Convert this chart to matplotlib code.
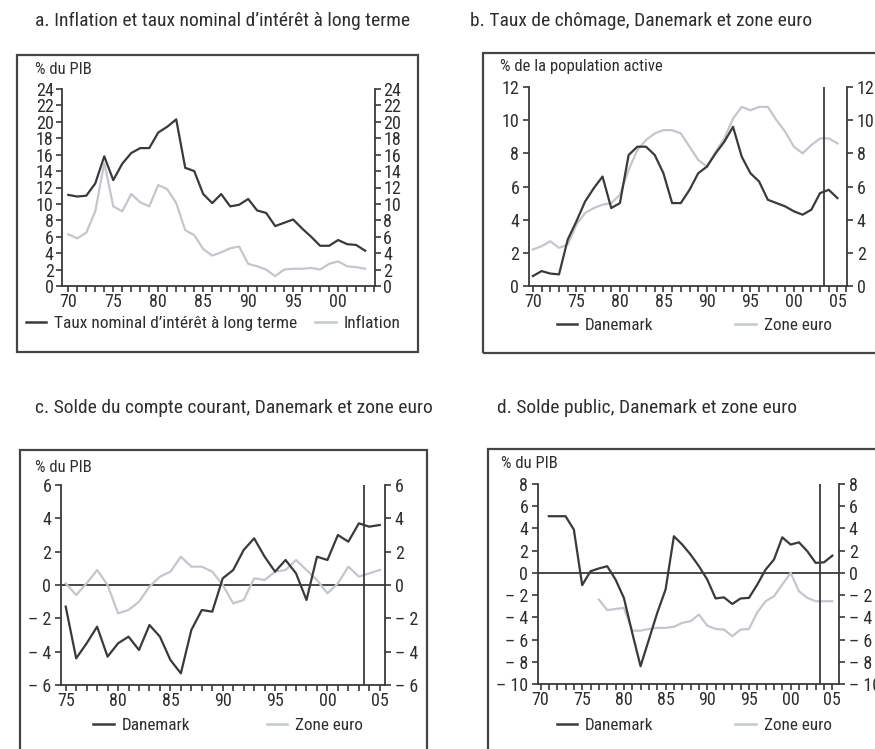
import matplotlib
matplotlib.use('Agg')
import matplotlib.pyplot as plt
from matplotlib import font_manager as fm
from matplotlib.patches import Rectangle
from matplotlib.lines import Line2D
from matplotlib.ticker import MultipleLocator, FuncFormatter

# pick a narrow face if one is there, the reference uses a condensed font
names = {f.name for f in fm.fontManager.ttflist}
family = 'DejaVu Sans'
for cand in ['Liberation Sans Narrow', 'Roboto Condensed', 'Open Sans Condensed',
             'Noto Sans Condensed', 'Arial Narrow']:
    if cand in names:
        family = cand
        break
plt.rcParams['font.family'] = [family, 'DejaVu Sans']

W, H = 875, 749
DARK = '#3a3a3a'
LIGHT = '#c3c7cc'
TXT = '#2e2e2e'

# a. inflation et taux long
years_a = list(range(1970, 2004))
taux_long = [11.1, 10.9, 11.0, 12.5, 15.8, 12.9, 14.9, 16.2, 16.8, 16.8,
             18.7, 19.4, 20.3, 14.4, 14.0, 11.2, 10.1, 11.2, 9.7, 9.9,
             10.6, 9.2, 8.9, 7.3, 7.7, 8.1, 7.0, 6.0, 4.9, 4.9,
             5.6, 5.1, 5.0, 4.3]
inflation = [6.3, 5.8, 6.5, 9.1, 15.0, 9.7, 9.1, 11.2, 10.2, 9.7,
             12.3, 11.8, 10.1, 6.8, 6.2, 4.5, 3.7, 4.1, 4.6, 4.8,
             2.7, 2.4, 2.0, 1.2, 2.0, 2.1, 2.1, 2.2, 2.0, 2.7,
             3.0, 2.4, 2.3, 2.1]

# b. chomage
years_b = list(range(1970, 2006))
chom_dk = [0.6, 0.9, 0.75, 0.7, 2.8, 3.9, 5.1, 5.9, 6.6, 4.7,
           5.0, 7.9, 8.4, 8.4, 7.9, 6.8, 5.0, 5.0, 5.8, 6.8,
           7.2, 8.0, 8.7, 9.6, 7.8, 6.8, 6.3, 5.2, 5.0, 4.8,
           4.5, 4.3, 4.6, 5.6, 5.8, 5.3]
chom_ze = [2.2, 2.4, 2.7, 2.3, 2.5, 3.7, 4.4, 4.7, 4.9, 5.0,
           5.5, 7.0, 8.2, 8.8, 9.2, 9.4, 9.4, 9.2, 8.4, 7.6,
           7.2, 8.1, 8.9, 10.1, 10.8, 10.6, 10.8, 10.8, 10.0, 9.3,
           8.4, 8.0, 8.5, 8.9, 8.9, 8.6]

# c. compte courant
years_c = list(range(1975, 2006))
cc_dk = [-1.3, -4.4, -3.5, -2.5, -4.3, -3.5, -3.1, -3.9, -2.4, -3.1,
         -4.5, -5.3, -2.7, -1.5, -1.6, 0.4, 0.9, 2.1, 2.8, 1.7,
         0.8, 1.5, 0.7, -0.9, 1.7, 1.5, 3.0, 2.6, 3.7, 3.5, 3.6]
cc_ze = [0.1, -0.6, 0.1, 0.9, 0.0, -1.7, -1.5, -1.0, -0.1, 0.5,
         0.8, 1.7, 1.1, 1.1, 0.8, 0.0, -1.1, -0.9, 0.4, 0.3,
         0.8, 0.9, 1.5, 0.9, 0.3, -0.5, 0.1, 1.1, 0.5, 0.7, 0.9]

# d. solde public
years_d_dk = list(range(1971, 2006))
sp_dk = [5.1, 5.1, 5.1, 3.9, -1.1, 0.15, 0.4, 0.6, -0.6, -2.25,
         -5.4, -8.4, -6.0, -3.6, -1.5, 3.3, 2.55, 1.65, 0.6, -0.6,
         -2.3, -2.2, -2.8, -2.3, -2.25, -1.05, 0.3, 1.2, 3.2, 2.55,
         2.75, 1.95, 0.9, 0.95, 1.55]
years_d_ze = list(range(1977, 2006))
sp_ze = [-2.4, -3.35, -3.25, -3.15, -5.2, -5.2, -5.05, -4.95, -4.95, -4.85,
         -4.5, -4.35, -3.75, -4.75, -5.05, -5.1, -5.7, -5.1, -5.05, -3.55,
         -2.55, -2.1, -1.05, 0.0, -1.65, -2.25, -2.55, -2.55, -2.55]

forecast_start = 2003.5

FS_TITLE = 14
FS_TICK = 13
FS_LEG = 12.3
FS_UNIT = 12


def px_axes(fig, left, top, right, bottom):
    return fig.add_axes([left / W, 1 - bottom / H, (right - left) / W, (bottom - top) / H])


def fmt_y(v, pos):
    v = int(round(v))
    return '\u2013 %d' % abs(v) if v < 0 else '%d' % v


def style(ax, xlim, ylim, ystep):
    ax.set_xlim(*xlim)
    ax.set_ylim(*ylim)
    ax.set_facecolor('none')
    for s in ['left', 'right', 'bottom']:
        ax.spines[s].set_color(DARK)
        ax.spines[s].set_linewidth(1.3)
    ax.spines['top'].set_visible(False)
    ax.xaxis.set_major_locator(MultipleLocator(5))
    ax.xaxis.set_minor_locator(MultipleLocator(1))
    ax.xaxis.set_major_formatter(FuncFormatter(lambda v, p: '%02d' % (int(round(v)) % 100)))
    ax.yaxis.set_major_locator(MultipleLocator(ystep))
    ax.yaxis.set_major_formatter(FuncFormatter(fmt_y))
    ax.tick_params(axis='both', which='both', direction='out', length=4, width=1.2,
                   color=DARK, labelcolor=TXT, labelsize=FS_TICK)
    ax.tick_params(axis='x', which='major', pad=1)
    ax.tick_params(axis='y', which='major', pad=3, right=True, labelright=True)


def legend(ax, fig, cx, cy, labels, colspace, size=FS_LEG):
    handles = [Line2D([], [], color=DARK, lw=1.8), Line2D([], [], color=LIGHT, lw=1.8)]
    ax.legend(handles, labels, loc='center', bbox_to_anchor=(cx / W, 1 - cy / H),
              bbox_transform=fig.transFigure, ncol=2, frameon=False, fontsize=size,
              handlelength=1.2, handletextpad=0.45, columnspacing=colspace,
              labelcolor=TXT)


def box(fig, x0, y0, x1, y1):
    fig.patches.append(Rectangle((x0 / W, 1 - y1 / H), (x1 - x0) / W, (y1 - y0) / H,
                                 transform=fig.transFigure, fill=False,
                                 edgecolor='#444444', lw=1.6))


fig = plt.figure(figsize=(W / 100, H / 100), dpi=100)

box(fig, 17, 55, 418, 352)
box(fig, 483, 53, 900, 353)
box(fig, 20, 450, 427, 800)
box(fig, 488, 449, 900, 800)

# panel a
ax = px_axes(fig, 62, 89, 375, 286)
ax.plot(years_a, taux_long, color=DARK, lw=1.6)
ax.plot(years_a, inflation, color=LIGHT, lw=1.6)
style(ax, (1969.3, 2004.1), (0, 24), 2)
ax.tick_params(axis='y', pad=2)
legend(ax, fig, 213, 323, ["Taux nominal d\u2019intérêt à long terme", 'Inflation'], 1.0, 12.5)
fig.text(35 / W, 1 - 69 / H, '% du PIB', fontsize=FS_UNIT, color=TXT, va='center')
fig.text(35 / W, 1 - 21 / H, "a. Inflation et taux nominal d\u2019intérêt à long terme",
         fontsize=FS_TITLE, color=TXT, va='center')

# panel b
ax = px_axes(fig, 529, 87, 847, 286)
ax.plot(years_b, chom_ze, color=LIGHT, lw=1.6)
ax.plot(years_b, chom_dk, color=DARK, lw=1.6)
ax.axvline(forecast_start, color=DARK, lw=1.3)
style(ax, (1969.55, 2006.1), (0, 12), 2)
legend(ax, fig, 694, 325, ['Danemark', 'Zone euro'], 4.8)
fig.text(500 / W, 1 - 67 / H, '% de la population active', fontsize=FS_UNIT, color=TXT, va='center')
fig.text(470 / W, 1 - 21 / H, 'b. Taux de chômage, Danemark et zone euro',
         fontsize=FS_TITLE, color=TXT, va='center')

# panel c
ax = px_axes(fig, 61, 485, 385, 685)
ax.axhline(0, color=DARK, lw=1.3)
ax.plot(years_c, cc_ze, color=LIGHT, lw=1.6)
ax.plot(years_c, cc_dk, color=DARK, lw=1.6)
ax.axvline(forecast_start, color=DARK, lw=1.3)
style(ax, (1974.55, 2005.5), (-6, 6), 2)
legend(ax, fig, 228, 725, ['Danemark', 'Zone euro'], 4.5)
fig.text(35 / W, 1 - 467 / H, '% du PIB', fontsize=FS_UNIT, color=TXT, va='center')
fig.text(35 / W, 1 - 408 / H, 'c. Solde du compte courant, Danemark et zone euro',
         fontsize=FS_TITLE, color=TXT, va='center')

# panel d
ax = px_axes(fig, 538, 484, 839, 684)
ax.axhline(0, color=DARK, lw=1.3)
ax.plot(years_d_ze, sp_ze, color=LIGHT, lw=1.6)
ax.plot(years_d_dk, sp_dk, color=DARK, lw=1.6)
ax.axvline(forecast_start, color=DARK, lw=1.3)
style(ax, (1969.7, 2005.8), (-10, 8), 2)
legend(ax, fig, 694, 725, ['Danemark', 'Zone euro'], 4.8)
fig.text(501 / W, 1 - 464 / H, '% du PIB', fontsize=FS_UNIT, color=TXT, va='center')
fig.text(497 / W, 1 - 408 / H, 'd. Solde public, Danemark et zone euro',
         fontsize=FS_TITLE, color=TXT, va='center')

fig.savefig('out.png', dpi=100)
